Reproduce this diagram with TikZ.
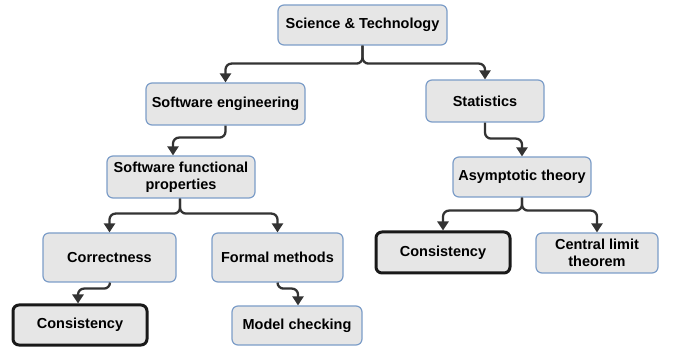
\documentclass[tikz,border=0pt]{standalone}
\usepackage{fontspec}
\setmainfont{Liberation Sans}
\usetikzlibrary{arrows.meta,calc}
\definecolor{boxfill}{HTML}{E6E6E6}
\definecolor{boxline}{HTML}{7C9DC8}
\definecolor{connc}{HTML}{333333}
\tikzset{
  box/.style={draw=boxline, fill=boxfill, line width=1.2pt, rounded corners=6pt,
    inner sep=0pt, align=center, font=\bfseries\fontsize{14.5}{17}\selectfont},
  boldbox/.style={box, draw=black!90, line width=3pt},
  conn/.style={draw=connc, line width=2.3pt, rounded corners=6pt,
    -{Triangle[width=11pt,length=9pt]}},
}
\begin{document}
\begin{tikzpicture}[x=1pt,y=-1pt]
\useasboundingbox (0,0) rectangle (673,350);
\node[box, minimum width=169pt, minimum height=40pt] (st) at (362.5,25) {Science \& Technology};
\node[box, minimum width=159pt, minimum height=42pt] (se) at (225.5,104) {Software engineering};
\node[box, minimum width=118pt, minimum height=42pt] (stat) at (485,101) {Statistics};
\node[box, minimum width=148pt, minimum height=42pt] (sfp) at (181,177) {Software functional\\properties};
\node[box, minimum width=138pt, minimum height=40pt] (asy) at (522,177) {Asymptotic theory};
\node[box, minimum width=133pt, minimum height=49pt] (corr) at (109.5,257.5) {Correctness};
\node[box, minimum width=131pt, minimum height=49pt] (fm) at (277.5,257.5) {Formal methods};
\node[boldbox, minimum width=134pt, minimum height=40pt] (cons1) at (80,325) {Consistency};
\node[box, minimum width=130pt, minimum height=39pt] (mc) at (297,325.5) {Model checking};
\node[boldbox, minimum width=134pt, minimum height=41pt] (cons2) at (443,252.5) {Consistency};
\node[box, minimum width=122pt, minimum height=40pt] (clt) at (597,253) {Central limit\\theorem};

\coordinate (j1) at ($(st.south)+(0,18)$);
\draw[conn] (st.south) -- (j1) -| (se.north);
\draw[conn] (st.south) -- (j1) -| (stat.north);

\coordinate (j2) at ($(se.south)+(0,12)$);
\coordinate (t2) at ($(sfp.north)+(-8,0)$);
\draw[conn] (se.south) -- (j2) -| (t2);

\coordinate (s3) at ($(sfp.south)+(-1,0)$);
\coordinate (j3) at ($(s3)+(0,15)$);
\draw[conn] (s3) -- (j3) -| (corr.north);
\draw[conn] (s3) -- (j3) -| (fm.north);

\coordinate (s4) at ($(corr.south)+(0.5,0)$);
\coordinate (j4) at ($(s4)+(0,6)$);
\coordinate (t4) at ($(cons1.north)+(-2,0)$);
\draw[conn] (s4) -- (j4) -| (t4);

\coordinate (s5) at ($(fm.south)+(0,0)$);
\coordinate (j5) at ($(s5)+(0,6)$);
\coordinate (t5) at ($(mc.north)+(1,0)$);
\draw[conn] (s5) -- (j5) -| (t5);

\coordinate (j6) at ($(stat.south)+(0,16)$);
\draw[conn] (stat.south) -- (j6) -| (asy.north);

\coordinate (j7) at ($(asy.south)+(0,13)$);
\draw[conn] (asy.south) -- (j7) -| (cons2.north);
\draw[conn] (asy.south) -- (j7) -| (clt.north);
\end{tikzpicture}
\end{document}
